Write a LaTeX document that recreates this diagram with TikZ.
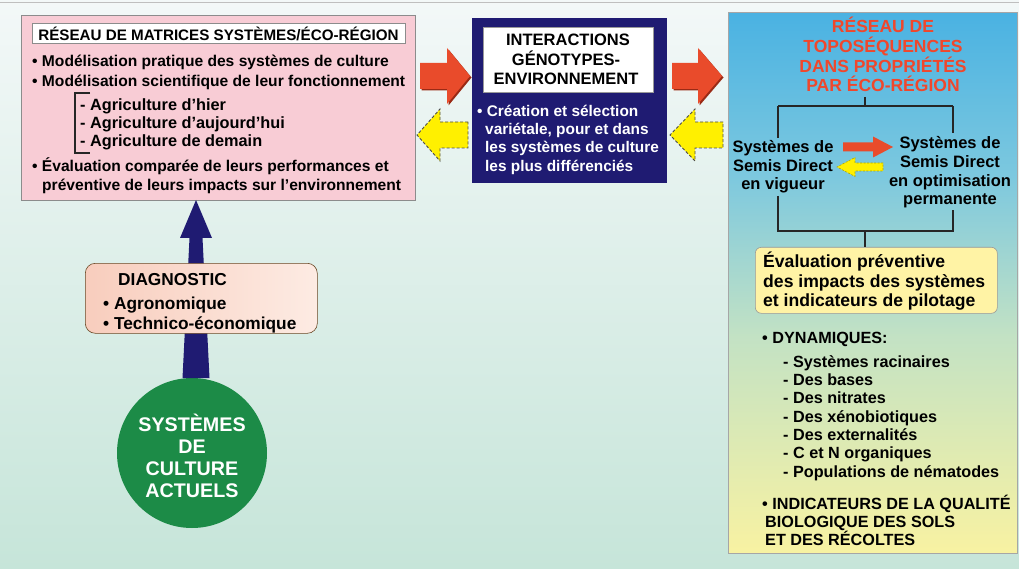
\documentclass[tikz,border=0pt]{standalone}
\usepackage{fontspec}
\setmainfont{Liberation Sans}
\usetikzlibrary{calc}
\definecolor{bgtop}{HTML}{F3F8F8}
\definecolor{bgbot}{HTML}{C6E5D9}
\definecolor{pinkfill}{HTML}{F8CCD5}
\definecolor{navy}{HTML}{1F1B72}
\definecolor{redA}{HTML}{E94B2B}
\definecolor{redS}{HTML}{9A2A15}
\definecolor{yelA}{HTML}{FFF000}
\definecolor{ptop}{HTML}{4AB2E2}
\definecolor{pblue}{HTML}{7CC8DF}
\definecolor{pmid}{HTML}{C3E2C4}
\definecolor{pbot}{HTML}{F8F2A2}
\definecolor{evalfill}{HTML}{FFF3A5}
\definecolor{diagL}{HTML}{F8CDBD}
\definecolor{diagR}{HTML}{FDEBE3}
\definecolor{greenC}{HTML}{1C8B47}
\definecolor{titlered}{HTML}{F0472C}
\pgfdeclareverticalshading{panelshade}{100bp}{color(0bp)=(pbot); color(25bp)=(pbot); color(45bp)=(pmid); color(60bp)=(pblue); color(75bp)=(ptop); color(100bp)=(ptop)}
\newcommand\myblockarr[7]{%
  \fill[#7] (#1,#4-#5) -- (#2,#4-#5) -- (#2,#4-#6) -- (#3,#4) -- (#2,#4+#6) -- (#2,#4+#5) -- (#1,#4+#5) -- cycle;}
\newcommand\fsz[1]{\fontsize{#1}{#1}\selectfont\bfseries}
\begin{document}
\begin{tikzpicture}[x=1pt,y=-1pt,
  txt/.style={inner sep=0pt},
  ptxt/.style={txt,anchor=base west,font=\fsz{15.6}},
  psub/.style={txt,anchor=base west,font=\fsz{16.3}},
  ctit/.style={txt,anchor=base,font=\fsz{16.5}},
  cwht/.style={txt,anchor=base west,font=\fsz{15.4},text=white},
  rtit/.style={txt,anchor=base,font=\fsz{17.5},text=titlered},
  rsys/.style={txt,anchor=base,font=\fsz{16.5}},
  reval/.style={txt,anchor=base west,font=\fsz{17.6}},
  rdyn/.style={txt,anchor=base west,font=\fsz{16.2}},
  dtxt/.style={txt,anchor=base west,font=\fsz{17.3}},
  gtxt/.style={txt,anchor=base,font=\fsz{19.7},text=white},
  treeline/.style={draw=black!85,line width=1.4pt},
  redarr/.style={fill=redA},
  redshadow/.style={fill=redS},
  yelarr/.style={fill=yelA,draw=black!70,dashed,line width=0.9pt,dash pattern=on 3pt off 2pt}
]
\useasboundingbox (0,0) rectangle (1019,569);
\shade[top color=bgtop,bottom color=bgbot] (0,0) rectangle (1019,569);
\draw[black!25,line width=1pt] (0,3) -- (1019,3);

% ---------- left pink box ----------
\node[draw=black!45,fill=pinkfill,line width=0.6pt,minimum width=394,minimum height=185,anchor=north west,inner sep=0] (pink) at (21,15) {};
\node[draw=black!45,fill=white,line width=0.6pt,minimum width=373,minimum height=20,anchor=north west,inner sep=0] (ptitbox) at (32,23) {};
\node[txt,anchor=base,font=\fsz{15.2}] (ptit) at (218.5,41) {RÉSEAU DE MATRICES SYSTÈMES/ÉCO-RÉGION};
\node[ptxt] (p1) at (32,66.5) {• Modélisation pratique des systèmes de culture};
\node[ptxt] (p2) at (32,87) {• Modélisation scientifique de leur fonctionnement};
\node[psub] (p3) at (80,111) {- Agriculture d’hier};
\node[psub] (p4) at (80,129) {- Agriculture d’aujourd’hui};
\node[psub] (p5) at (80,147) {- Agriculture de demain};
\node[ptxt] (p6) at (32,172) {• Évaluation comparée de leurs performances et};
\node[ptxt] (p7) at (42,191) {préventive de leurs impacts sur l’environnement};
\coordinate (brt) at (90,93);
\coordinate (brb) at (90,153);
\draw[black!85,line width=1.2pt] (brt) -- (75,93) -- (75,153) -- (brb);

% ---------- centre navy box ----------
\node[fill=navy,minimum width=195,minimum height=165,anchor=north west,inner sep=0] (navybox) at (472,18) {};
\node[draw=black!40,fill=white,minimum width=170,minimum height=65,anchor=north west,inner sep=0] (ctitbox) at (483,27) {};
\node[ctit] (c1) at (568,46) {INTERACTIONS};
\node[ctit] (c2) at (566,66) {GÉNOTYPES-};
\node[ctit] (c3) at (566,85) {ENVIRONNEMENT};
\node[cwht] (c4) at (477,117) {• Création et sélection};
\node[cwht] (c5) at (485,135) {variétale, pour et dans};
\node[cwht] (c6) at (485,153) {les systèmes de culture};
\node[cwht] (c7) at (485,172) {les plus différenciés};

% ---------- block arrows ----------
\myblockarr{421.5}{448.5}{471.5}{77.5}{13}{28}{redshadow}
\myblockarr{420}{447}{470}{76}{13}{28}{redarr}
\myblockarr{468}{440}{417}{135}{13}{26}{yelarr}
\myblockarr{673.5}{699.5}{723.5}{77.5}{13}{28}{redshadow}
\myblockarr{672}{698}{722}{76}{13}{28}{redarr}
\myblockarr{723}{695}{670}{135}{13}{26}{yelarr}

% ---------- right panel ----------
\node[draw=black!35,line width=0.6pt,shading=panelshade,minimum width=289,minimum height=541,anchor=north west,inner sep=0] (panel) at (728,12) {};
\node[rtit] (r1) at (883,33) {RÉSEAU DE};
\node[rtit] (r2) at (883,53) {TOPOSÉQUENCES};
\node[rtit] (r3) at (883,73) {DANS PROPRIÉTÉS};
\node[rtit] (r4) at (883,92) {PAR ÉCO-RÉGION};
\coordinate (tt) at (865,97);
\coordinate (tm) at (865,106);
\coordinate (tl) at (778,106);
\coordinate (tr) at (953,106);
\node[rsys] (sl1) at (783,153) {Systèmes de};
\node[rsys] (sl2) at (783,172) {Semis Direct};
\node[rsys] (sl3) at (783,189.5) {en vigueur};
\node[rsys] (sr1) at (950,149) {Systèmes de};
\node[rsys] (sr2) at (950,168) {Semis Direct};
\node[rsys] (sr3) at (950,187) {en optimisation};
\node[rsys] (sr4) at (950,205) {permanente};
\draw[treeline] (tt) -- (tm);
\draw[treeline] (tl) -- (tr);
\draw[treeline] (tl) -- (778,138);
\draw[treeline] (tr) -- (953,133);
\coordinate (bl) at (778,231);
\coordinate (br) at (953,231);
\coordinate (bm) at (865,231);
\draw[treeline] (778,196) -- (bl) -- (br) -- (953,210);
\myblockarr{843}{873}{893}{147}{4.5}{10.5}{redarr}
\myblockarr{883}{855}{837}{167}{4}{9.5}{fill=yelA,draw=yelA!70!black,dashed,line width=0.6pt,dash pattern=on 2pt off 1.5pt}

\node[draw=black!40,line width=0.6pt,fill=evalfill,rounded corners=6pt,minimum width=242,minimum height=66,anchor=north west,inner sep=0] (evalbox) at (755,247) {};
\draw[treeline] (bm) -- (evalbox.north -| bm);
\node[reval] (e1) at (763,267) {Évaluation préventive};
\node[reval] (e2) at (763,287) {des impacts des systèmes};
\node[reval] (e3) at (763,306) {et indicateurs de pilotage};

\node[rdyn] (d0) at (762,343) {• DYNAMIQUES:};
\node[rdyn] (d1) at (783,367) {- Systèmes racinaires};
\node[rdyn] (d2) at (783,385.3) {- Des bases};
\node[rdyn] (d3) at (783,403.6) {- Des nitrates};
\node[rdyn] (d4) at (783,422) {- Des xénobiotiques};
\node[rdyn] (d5) at (783,440.3) {- Des externalités};
\node[rdyn] (d6) at (783,458.6) {- C et N organiques};
\node[rdyn] (d7) at (783,477) {- Populations de nématodes};
\node[rdyn] (i1) at (762,509) {• INDICATEURS DE LA QUALITÉ};
\node[rdyn] (i2) at (765,527) {BIOLOGIQUE DES SOLS};
\node[rdyn] (i3) at (765,545) {ET DES RÉCOLTES};

% ---------- navy up arrow ----------
\node[circle,fill=greenC,minimum size=150,inner sep=0] (circ) at (192,453) {};
\fill[navy] (196,200) -- (212,238) -- (202.5,238) -- (209.5,378) -- (182.5,378) -- (189.5,238) -- (180,238) -- cycle;

% ---------- diagnostic ----------
\node[draw=black!45!brown,line width=0.6pt,left color=diagL,right color=diagR,rounded corners=10pt,minimum width=232,minimum height=70,anchor=north west,inner sep=0] (diag) at (85,263) {};
\node[dtxt] (g1) at (118,285) {DIAGNOSTIC};
\node[dtxt] (g2) at (103,309) {• Agronomique};
\node[dtxt] (g3) at (103,329) {• Technico-économique};

% ---------- circle text ----------
\node[gtxt] (k1) at (192,431) {SYSTÈMES};
\node[gtxt] (k2) at (192,453) {DE};
\node[gtxt] (k3) at (192,475) {CULTURE};
\node[gtxt] (k4) at (192,497) {ACTUELS};
\end{tikzpicture}
\end{document}
